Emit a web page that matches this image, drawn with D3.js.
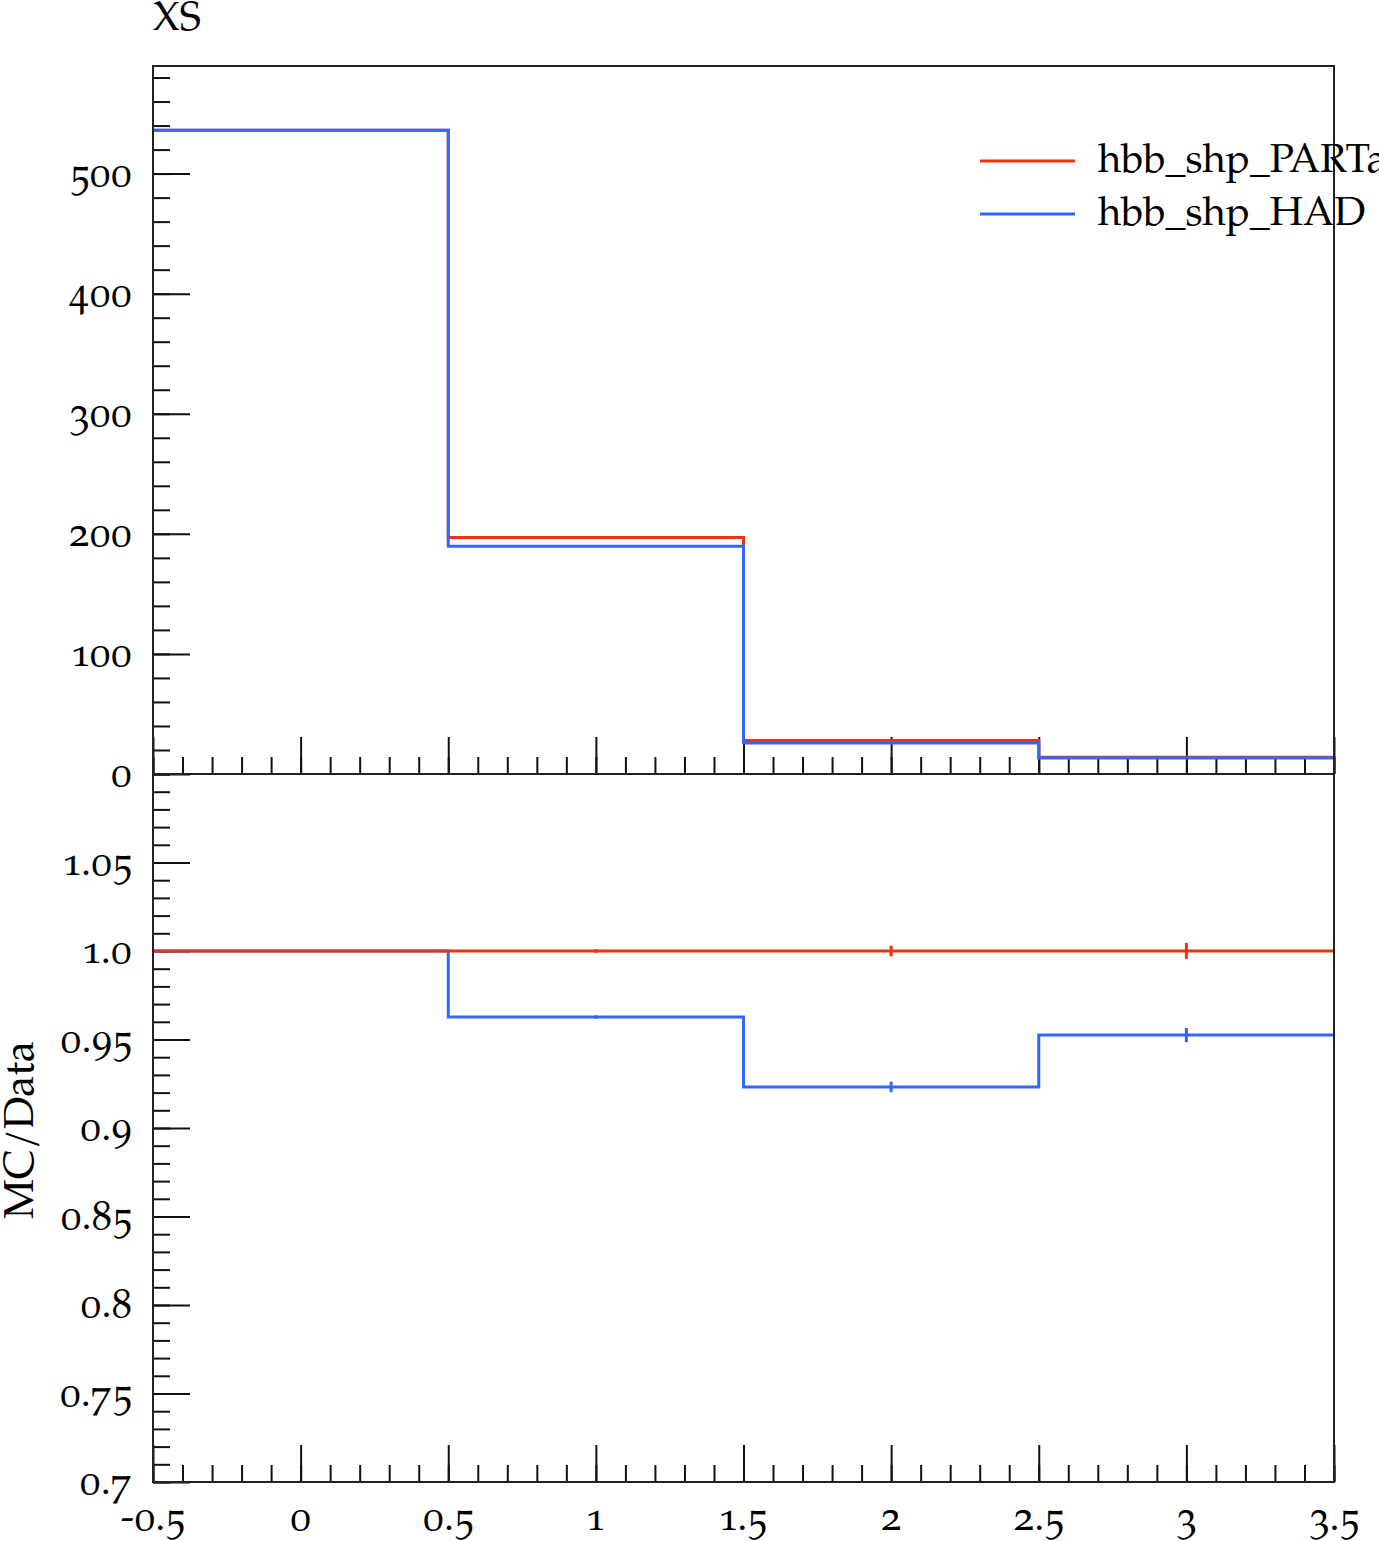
<!DOCTYPE html>
<html>
<head>
  <meta charset="utf-8">
  <title>XS ratio</title>
  <script src="https://cdn.jsdelivr.net/npm/d3@7/dist/d3.min.js"></script>
  <style>
    body { margin: 0; background: #fff; }
    svg { display: block; font-family: "TeX Gyre Pagella", "Palatino Linotype", Palatino, "Liberation Serif", serif; }
    .num { font-variant-numeric: oldstyle-nums; }
  </style>
</head>
<body>
  <svg id="chart"></svg>

  <script>
    // bin edges and values
    const binEdges = [-0.5, 0.5, 1.5, 2.5, 3.5];
    const partonXS = [536, 197, 28.0, 14.0];
    const hadronXS = [536, 189.7, 25.9, 13.3];
    const partonRatio = [1.0, 1.0, 1.0, 1.0];
    const hadronRatio = [1.0, 0.9627, 0.9232, 0.9525];
    const partonRatioErr = [0, 0.001, 0.003, 0.0045];
    const hadronRatioErr = [0, 0.001, 0.003, 0.004];

    const xTicks = [-0.5, 0, 0.5, 1, 1.5, 2, 2.5, 3, 3.5];
    const xTickLabels = ["-0.5", "0", "0.5", "1", "1.5", "2", "2.5", "3", "3.5"];
    const yTicks = [0, 100, 200, 300, 400, 500];
    const yTickLabels = ["0", "100", "200", "300", "400", "500"];
    const rTicks = [0.7, 0.75, 0.8, 0.85, 0.9, 0.95, 1.0, 1.05];
    const rTickLabels = ["0.7", "0.75", "0.8", "0.85", "0.9", "0.95", "1.0", "1.05"];
    const legendNames = ["hbb_shp_PARTa", "hbb_shp_HAD"];

    const width = 1379, height = 1541;
    const red = "#ee3311", blue = "#3366ff";
    const padL = 153, padR = 1334, padT = 66, padM = 774, padB = 1482;

    const svg = d3.select("#chart").attr("width", width).attr("height", height);

    const x = d3.scaleLinear().domain([-0.5, 3.5]).range([padL, padR]);
    const y = d3.scaleLinear().domain([0, 589.6]).range([padM, padT]);
    const yr = d3.scaleLinear().domain([0.7, 1.1]).range([padB, padM]);

    const minorX = d3.range(-5, 36).map(i => i / 10);
    const minorY = d3.range(0, 590, 20);
    const minorR = d3.range(70, 111).map(i => i / 100);

    function ticks(axis, pos, vals, size) {
      svg.append("g")
        .attr("transform", pos)
        .call(axis.tickValues(vals).tickSize(size).tickFormat(""))
        .call(g => g.select(".domain").remove())
        .selectAll("line").attr("stroke", "#111").attr("stroke-width", 2);
    }

    // top panel ticks
    ticks(d3.axisLeft(y), `translate(${padL},0)`, minorY, -17);
    ticks(d3.axisLeft(y), `translate(${padL},0)`, yTicks, -37);
    ticks(d3.axisBottom(x), `translate(0,${padM})`, minorX, -17);
    ticks(d3.axisBottom(x), `translate(0,${padM})`, xTicks, -37);
    // ratio panel ticks
    ticks(d3.axisLeft(yr), `translate(${padL},0)`, minorR, -17);
    ticks(d3.axisLeft(yr), `translate(${padL},0)`, rTicks, -37);
    ticks(d3.axisBottom(x), `translate(0,${padB})`, minorX, -17);
    ticks(d3.axisBottom(x), `translate(0,${padB})`, xTicks, -37);

    // step histogram path
    function steps(vals, ys) {
      let p = "";
      vals.forEach((v, i) => {
        p += (i === 0 ? "M" : "L") + x(binEdges[i]) + "," + ys(v) + "L" + x(binEdges[i + 1]) + "," + ys(v);
      });
      return p;
    }

    svg.append("clipPath").attr("id", "clipTop")
      .append("rect").attr("x", padL).attr("y", padT).attr("width", padR - padL).attr("height", padM - padT);
    svg.append("clipPath").attr("id", "clipRatio")
      .append("rect").attr("x", padL).attr("y", padM).attr("width", padR - padL).attr("height", padB - padM);

    const topG = svg.append("g").attr("clip-path", "url(#clipTop)");
    topG.append("path").attr("d", steps(partonXS, y)).attr("fill", "none").attr("stroke", red).attr("stroke-width", 3);
    topG.append("path").attr("d", steps(hadronXS, y)).attr("fill", "none").attr("stroke", blue).attr("stroke-width", 3);

    const ratioG = svg.append("g").attr("clip-path", "url(#clipRatio)");
    [[hadronRatio, hadronRatioErr, blue], [partonRatio, partonRatioErr, red]].forEach(([vals, errs, col]) => {
      ratioG.append("path").attr("d", steps(vals, yr)).attr("fill", "none").attr("stroke", col).attr("stroke-width", 3);
      ratioG.append("g").selectAll("line")
        .data(vals.map((v, i) => ({ c: (binEdges[i] + binEdges[i + 1]) / 2, v, e: errs[i] })).filter(d => d.e > 0))
        .join("line")
        .attr("x1", d => x(d.c)).attr("x2", d => x(d.c))
        .attr("y1", d => yr(d.v - d.e)).attr("y2", d => yr(d.v + d.e))
        .attr("stroke", col).attr("stroke-width", 3);
    });

    // frames
    svg.append("rect").attr("x", padL).attr("y", padT).attr("width", padR - padL).attr("height", padM - padT)
      .attr("fill", "none").attr("stroke", "#222").attr("stroke-width", 2);
    svg.append("rect").attr("x", padL).attr("y", padM).attr("width", padR - padL).attr("height", padB - padM)
      .attr("fill", "none").attr("stroke", "#222").attr("stroke-width", 2);

    const fs = 40;
    // tick labels
    svg.append("g").attr("class", "num").attr("font-size", fs).attr("text-anchor", "end")
      .selectAll("text").data(yTicks).join("text")
      .attr("x", 132).attr("y", d => y(d) + 12).text((d, i) => yTickLabels[i]);
    svg.append("g").attr("class", "num").attr("font-size", fs).attr("text-anchor", "end")
      .selectAll("text").data(rTicks).join("text")
      .attr("x", 132).attr("y", d => yr(d) + 12).text((d, i) => rTickLabels[i]);
    svg.append("g").attr("class", "num").attr("font-size", fs).attr("text-anchor", "middle")
      .selectAll("text").data(xTicks).join("text")
      .attr("x", d => x(d)).attr("y", 1530).text((d, i) => xTickLabels[i]);

    // axis titles
    svg.append("text").attr("x", 153).attr("y", 30).attr("font-size", 40).text("XS");
    svg.append("text").attr("font-size", 42).attr("text-anchor", "middle")
      .attr("transform", "translate(33,1130) rotate(-90)").text("MC/Data");

    // legend
    const legend = svg.append("g");
    [red, blue].forEach((col, i) => {
      const ly = 161 + i * 53;
      legend.append("line").attr("x1", 980).attr("x2", 1075).attr("y1", ly).attr("y2", ly)
        .attr("stroke", col).attr("stroke-width", 3);
      legend.append("text").attr("x", 1098).attr("y", ly + 11).attr("font-size", 40).text(legendNames[i]);
    });
  </script>
</body>
</html>
